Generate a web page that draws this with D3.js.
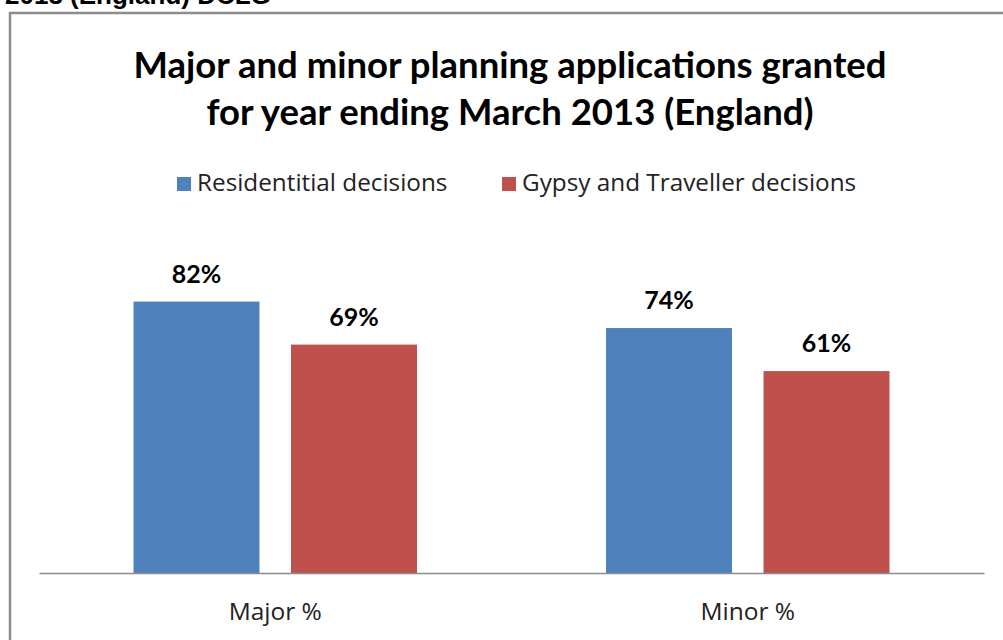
<!DOCTYPE html>
<html><head><meta charset="utf-8">
<script src="https://cdn.jsdelivr.net/npm/d3@7"></script>
<style>body{margin:0;background:#fff}svg{display:block}</style>
</head><body>
<svg id="c" width="1003" height="640"></svg>
<script>
const categories = ["Major %", "Minor %"];
const seriesNames = ["Residentitial decisions", "Gypsy and Traveller decisions"];
const residential = [82, 74];
const gypsyTraveller = [69, 61];
const colors = ["#4f81bd", "#c0504d"];
const titleLines = ["Major and minor planning applications granted", "for year ending March 2013 (England)"];
const captionText = "2013 (England) DCLG";

const font = "Lato, 'Open Sans', sans-serif";
const font2 = "'Open Sans', Lato, sans-serif";
const svg = d3.select("#c");

// caption cut off at top
svg.append("text").attr("x", 5).attr("y", 4).text(captionText)
  .style("font-family", "Arial, 'Liberation Sans', sans-serif").style("font-weight", "bold")
  .style("font-size", "26px").attr("fill", "#000");

// chart border
svg.append("path").attr("d", "M10,660 L10,13 L1010,13").attr("fill", "none")
  .attr("stroke", "#8c8c8c").attr("stroke-width", 2.5);

// title
svg.selectAll("text.title").data(titleLines).join("text").attr("class", "title")
  .attr("x", 510).attr("y", (d, i) => 78 + i * 47).attr("text-anchor", "middle")
  .text(d => d).style("font-family", font).style("font-weight", "bold").style("font-size", "36.5px").attr("fill", "#000");

// legend
const legX = [177, 502];
const lg = svg.selectAll("g.leg").data(seriesNames).join("g").attr("class", "leg")
  .attr("transform", (d, i) => `translate(${legX[i]},176)`);
lg.append("rect").attr("width", 14).attr("height", 14).attr("y", 1).attr("fill", (d, i) => colors[i]);
lg.append("text").attr("x", 20).attr("y", 15).text(d => d)
  .style("font-family", font2).style("font-size", "24.3px").attr("fill", "#222");

// scales
const x0 = d3.scaleBand().domain(categories).range([39, 984]).paddingInner(0).paddingOuter(0);
const groupW = x0.bandwidth() * 0.6;
const x1 = d3.scaleBand().domain([0, 1]).range([0, groupW]).paddingInner(0.2);
const y = d3.scaleLinear().domain([0, 100]).range([573, 242]);

const data = categories.map((c, i) => ({ c, vals: [residential[i], gypsyTraveller[i]] }));
const groups = svg.selectAll("g.grp").data(data).join("g").attr("class", "grp")
  .attr("transform", d => `translate(${x0(d.c) + (x0.bandwidth() - groupW) / 2},0)`);
groups.selectAll("rect").data(d => d.vals.map((v, k) => ({ v, k }))).join("rect")
  .attr("x", d => x1(d.k)).attr("width", x1.bandwidth())
  .attr("y", d => y(d.v)).attr("height", d => y(0) - y(d.v)).attr("fill", d => colors[d.k]);
groups.selectAll("text").data(d => d.vals.map((v, k) => ({ v, k }))).join("text")
  .attr("x", d => x1(d.k) + x1.bandwidth() / 2).attr("y", d => y(d.v) - 19)
  .attr("text-anchor", "middle").text(d => d.v + "%")
  .style("font-family", font).style("font-weight", "bold").style("font-size", "25px").attr("fill", "#000");

// axis
const ax = svg.append("g").attr("transform", "translate(0,573)")
  .call(d3.axisBottom(x0).tickSize(0).tickPadding(0));
ax.select(".domain").attr("stroke", "#8c8c8c").attr("stroke-width", 1.5);
ax.selectAll("text").attr("dy", "47px").style("font-family", font2).style("font-size", "24.5px").attr("fill", "#222");
</script>
</body></html>
